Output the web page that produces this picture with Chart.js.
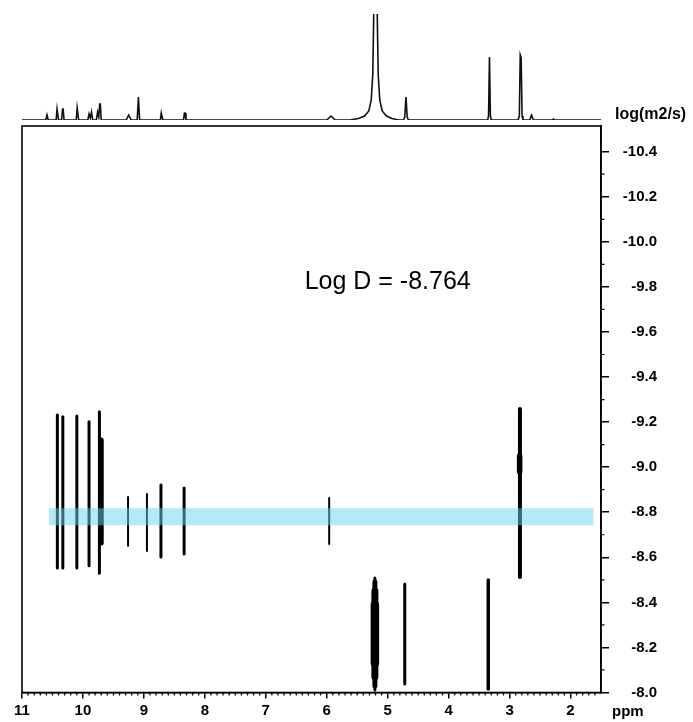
<!DOCTYPE html>
<html><head><meta charset="utf-8">
<script src="https://cdn.jsdelivr.net/npm/chart.js@4.4.0/dist/chart.umd.min.js"></script>
<style>
html,body{margin:0;padding:0;background:#fff;}
#wrap{position:relative;width:693px;height:722px;}
canvas{position:absolute;left:0;top:0;}
</style></head><body>
<div id="wrap"><canvas id="dosy" width="693" height="722"></canvas><canvas id="spec" width="693" height="130"></canvas></div>
<script>
// ---- tick labels ----
const xTickValues = [2, 3, 4, 5, 6, 7, 8, 9, 10, 11];
const yTickValues = [-10.4, -10.2, -10.0, -9.8, -9.6, -9.4, -9.2, -9.0, -8.8, -8.6, -8.4, -8.2, -8.0];
const xAxisLabel = 'ppm';
const yAxisLabel = 'log(m2/s)';
const logDLabel = 'Log D = -8.764';

// ---- 1D projection spectrum (ppm, intensity) ----
const specPpm = [11.00, 10.61, 10.59, 10.57,
  10.44, 10.425, 10.415, 10.40, 10.35, 10.335, 10.325, 10.31, 10.11, 10.095, 10.085, 10.07,
  9.92, 9.90, 9.88, 9.86, 9.84, 9.78, 9.76, 9.74, 9.725, 9.715, 9.70,
  9.29, 9.25, 9.21, 9.11, 9.09, 9.07, 8.73, 8.715, 8.705, 8.69, 8.35, 8.335, 8.325, 8.31,
  6.00, 5.93, 5.86,
  5.62, 5.48, 5.38, 5.31, 5.27, 5.245, 5.23, 5.222, 5.178, 5.17, 5.155, 5.13, 5.09, 5.02, 4.93, 4.82,
  4.74, 4.72, 4.70, 4.68, 4.66,
  3.36, 3.345, 3.33, 3.315, 3.30,
  2.86, 2.84, 2.825, 2.81, 2.795, 2.78,
  2.67, 2.64, 2.61, 2.30, 2.28, 2.26, 1.50];
const specIntensity = [0, 0, 5, 0,
  0, 11, 11, 0, 0, 11, 11, 0, 0, 12, 12, 0,
  0, 6, 2, 8, 0, 0, 8, 3, 16, 16, 0,
  0, 5, 0, 0, 23, 0, 0, 7, 7, 0, 0, 7, 7, 0,
  0, 4, 0,
  0, 1.5, 4, 9, 20, 45, 100, 220, 220, 100, 45, 20, 9, 4, 1.5, 0,
  0, 3, 23, 3, 0,
  0, 4, 63, 4, 0,
  0, 4, 65, 62, 4, 0,
  0, 5, 0, 0, 1, 0, 0];

// ---- DOSY cross peaks: chemical shift and log D extent ----
const dosyPpm      = [10.42, 10.33, 10.10, 9.90, 9.73, 9.70, 9.26, 8.95, 8.72, 8.34, 5.96, 5.21, 5.21, 5.21, 5.21, 4.72, 3.35, 2.83, 2.835];
const dosyLogDFrom = [-9.232, -9.224, -9.227, -9.202, -9.246, -9.121, -8.868, -8.881, -8.921, -8.908, -8.863, -8.508, -8.49, -8.45, -8.39, -8.482, -8.499, -9.258, -9.05];
const dosyLogDTo   = [-8.553, -8.553, -8.553, -8.563, -8.529, -8.664, -8.651, -8.628, -8.601, -8.615, -8.659, -8.011, -8.03, -8.07, -8.13, -8.038, -8.016, -8.513, -8.98];
// stroke widths (style only)
const dosyStroke   = [3, 3, 3, 3, 3, 5, 2, 2, 3, 3, 2, 3, 5, 7, 8.5, 3, 3.5, 4, 5.5];

// ---- highlighted diffusion band ----
const bandPpm = [10.56, 1.62];
const bandLogDTop = -8.742;
const bandLogDBottom = -8.818;

const FONT = 'Arial, "Liberation Sans", sans-serif';

// ---- spectrum chart ----
new Chart(document.getElementById('spec'), {
  type: 'scatter',
  data: { datasets: [{
    data: specPpm.map((p, i) => ({ x: p, y: specIntensity[i] })),
    showLine: true, borderColor: '#111', borderWidth: 1.6, pointRadius: 0, tension: 0
  }]},
  options: {
    responsive: false, animation: false, events: [],
    plugins: { legend: { display: false }, tooltip: { enabled: false } },
    layout: { padding: { left: 22, right: 92, top: 14, bottom: 10 } },
    scales: {
      x: { type: 'linear', min: 1.5, max: 11, reverse: true, display: false },
      y: { type: 'linear', min: 0, max: 106, display: false }
    }
  }
});

// ---- DOSY chart ----
const datasets = [];
datasets.push({
  data: bandPpm.map(p => ({ x: p, y: bandLogDTop })),
  showLine: true, borderWidth: 0, pointRadius: 0, fill: '+1',
  backgroundColor: 'rgba(105,212,242,0.5)', borderColor: 'rgba(0,0,0,0)'
});
datasets.push({
  data: bandPpm.map(p => ({ x: p, y: bandLogDBottom })),
  showLine: true, borderWidth: 0, pointRadius: 0, fill: false, borderColor: 'rgba(0,0,0,0)'
});
dosyPpm.forEach((p, i) => {
  datasets.push({
    data: [{ x: p, y: dosyLogDFrom[i] }, { x: p, y: dosyLogDTo[i] }],
    showLine: true, borderColor: '#000', borderWidth: dosyStroke[i],
    borderCapStyle: 'round', pointRadius: 0, fill: false
  });
});

const decor = {
  id: 'decor',
  afterDraw(chart) {
    const { ctx, chartArea: a, scales: { x, y } } = chart;
    ctx.save();
    ctx.strokeStyle = '#000';
    ctx.lineWidth = 1.6;
    ctx.strokeRect(a.left, a.top, a.right - a.left, a.bottom - a.top);
    // minor ticks
    ctx.lineWidth = 1.2;
    ctx.beginPath();
    for (let k = 16; k <= 109; k++) {
      if (k % 10 === 0) continue;
      const px = x.getPixelForValue(k / 10);
      ctx.moveTo(px, a.bottom); ctx.lineTo(px, a.bottom + 3);
    }
    for (let k = -103; k <= -81; k += 2) {
      const py = y.getPixelForValue(k / 10);
      ctx.moveTo(a.right, py); ctx.lineTo(a.right + 3.5, py);
    }
    ctx.stroke();
    ctx.fillStyle = '#000';
    // annotation
    ctx.font = '25px ' + FONT;
    ctx.textAlign = 'center'; ctx.textBaseline = 'middle';
    ctx.fillText(logDLabel, x.getPixelForValue(5.0), y.getPixelForValue(-9.82));
    // axis titles
    ctx.font = 'bold 15px ' + FONT;
    ctx.textAlign = 'left'; ctx.textBaseline = 'alphabetic';
    ctx.fillText(xAxisLabel, a.right + 11, 716);
    ctx.font = 'bold 16px ' + FONT;
    ctx.fillText(yAxisLabel, a.right + 14, 119);
    ctx.restore();
  }
};

new Chart(document.getElementById('dosy'), {
  type: 'scatter',
  data: { datasets },
  options: {
    responsive: false, animation: false, events: [],
    plugins: { legend: { display: false }, tooltip: { enabled: false } },
    layout: { padding: { left: 22, right: 36, top: 126, bottom: 0 } },
    scales: {
      x: {
        type: 'linear', min: 1.5, max: 11, reverse: true,
        afterBuildTicks: s => { s.ticks = xTickValues.map(v => ({ value: v })); },
        afterFit: s => { s.height = 29.5; },
        grid: { drawOnChartArea: false, drawTicks: true, tickLength: 6, color: '#000', lineWidth: 1.5 },
        border: { display: true, color: '#000', width: 1.6 },
        ticks: { autoSkip: false, maxRotation: 0, padding: 3, color: '#000',
          font: { family: FONT, size: 15, weight: 'bold' }, callback: v => String(v) }
      },
      y: {
        type: 'linear', position: 'right', min: -10.514, max: -8.0, reverse: true,
        afterBuildTicks: s => { s.ticks = yTickValues.map(v => ({ value: v })); },
        afterFit: s => { s.width = 56; },
        grid: { drawOnChartArea: false, drawTicks: true, tickLength: 8, color: '#000', lineWidth: 1.5 },
        border: { display: true, color: '#000', width: 1.6 },
        ticks: { autoSkip: false, padding: 14, crossAlign: 'far', color: '#000',
          font: { family: FONT, size: 15, weight: 'bold' }, callback: v => Number(v).toFixed(1) }
      }
    }
  },
  plugins: [decor]
});
</script>
</body></html>
